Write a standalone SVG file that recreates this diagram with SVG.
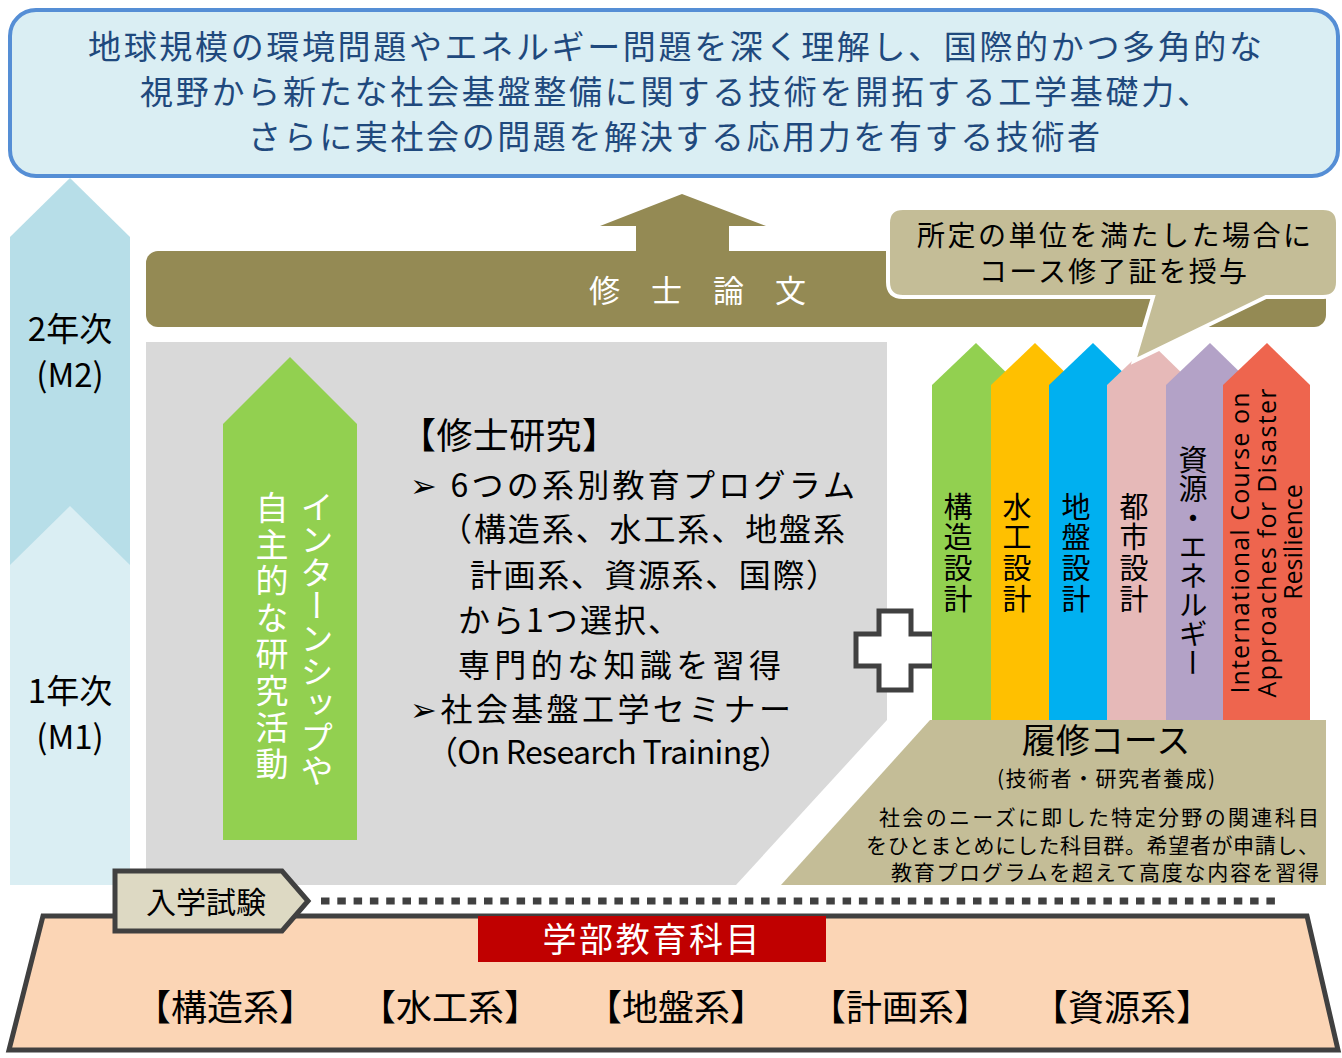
<svg xmlns="http://www.w3.org/2000/svg" width="1342" height="1058" viewBox="0 0 1342 1058">
<style>
text{font-family:"Noto Sans CJK JP","Noto Sans",sans-serif;}
.jp{fill:#000;}
.wh{fill:#fff;}
.vt{writing-mode:vertical-rl;}
.ban{fill:#1F497D;font-size:33px;}
.yr{font-size:33px;fill:#000;text-anchor:middle;}
.mid{font-size:32px;fill:#000;}
.arr{font-size:29px;fill:#000;}
.en{font-family:"Open Sans","Noto Sans",sans-serif;font-size:25px;fill:#000;text-anchor:middle;}
.sm{font-size:21px;fill:#000;text-anchor:end;}
.bot{font-size:36px;fill:#000;text-anchor:middle;}
.dk{stroke:#404040;stroke-width:5;stroke-linejoin:miter;}
</style>
<rect width="1342" height="1058" fill="#fff"/>

<g id="goal">
<rect x="10" y="10" width="1328" height="166" rx="26" fill="#DAEEF3" stroke="#558ED5" stroke-width="4"/>
<text class="ban" x="88" y="59" textLength="1174" lengthAdjust="spacing">地球規模の環境問題やエネルギー問題を深く理解し、国際的かつ多角的な</text>
<text class="ban" x="140" y="104" textLength="1070" lengthAdjust="spacing">視野から新たな社会基盤整備に関する技術を開拓する工学基礎力、</text>
<text class="ban" x="248" y="149" textLength="852" lengthAdjust="spacing">さらに実社会の問題を解決する応用力を有する技術者</text>
</g>

<g id="year2">
<path d="M10,885 V237 L70,178 L130,237 V885 Z" fill="#B7DEE8"/>
<text class="yr" x="70" y="341">2年次</text>
<text class="yr" x="70" y="387">(M2)</text>
</g>
<g id="year1">
<path d="M10,885 V565 L70,506 L130,565 V885 Z" fill="#DAEEF3"/>
<text class="yr" x="70" y="703">1年次</text>
<text class="yr" x="70" y="749">(M1)</text>
</g>

<g id="thesis">
<rect x="146" y="251" width="1180" height="76" rx="12" fill="#948A54"/>
<path d="M636,252 V226 H600 L682,194 L766,226 H729 V252 Z" fill="#948A54"/>
<text class="wh" x="589" y="302" font-size="31" textLength="217" lengthAdjust="spacing">修 士 論 文</text>
</g>

<g id="research">
<path d="M146,342 H887 V720 L736,885 H146 Z" fill="#D9D9D9"/>
<text class="jp" x="400" y="449" font-size="36" textLength="218" lengthAdjust="spacing">【修士研究】</text>
<text class="mid" x="410" y="497" textLength="445" lengthAdjust="spacing">➢ 6つの系別教育プログラム</text>
<text class="mid" x="440" y="541" textLength="405" lengthAdjust="spacing">（構造系、水工系、地盤系</text>
<text class="mid" x="470" y="587" textLength="368" lengthAdjust="spacing">計画系、資源系、国際）</text>
<text class="mid" x="458" y="632" textLength="222" lengthAdjust="spacing">から1つ選択、</text>
<text class="mid" x="458" y="677" textLength="323" lengthAdjust="spacing">専門的な知識を習得</text>
<text class="mid" x="410" y="721" textLength="381" lengthAdjust="spacing">➢社会基盤工学セミナー</text>
<text class="mid" x="426" y="764" textLength="365" lengthAdjust="spacing">（On Research Training）</text>
</g>

<g id="internship">
<path d="M223,840 V424 L290,357 L357,424 V840 Z" fill="#92D050"/>
<text class="wh vt" x="317" y="490" font-size="33">インターンシップや</text>
<text class="wh vt" x="272" y="491" font-size="33" letter-spacing="3.6">自主的な研究活動</text>
</g>

<g id="plus">
<path d="M879,611 H911 V634 H934 V666 H911 V690 H879 V666 H856 V634 H879 Z" fill="#fff" class="dk"/>
</g>

<g id="course-arrows">
<g id="c-kozo"><path d="M932,720 V385 L976,343 L1019,385 V720 Z" fill="#92D050"/>
<text class="arr vt" x="958" y="492" letter-spacing="1.7">構造設計</text></g>
<g id="c-suiko"><path d="M991,720 V385 L1035,343 L1078,385 V720 Z" fill="#FFC000"/>
<text class="arr vt" x="1017" y="492" letter-spacing="1.7">水工設計</text></g>
<g id="c-jiban"><path d="M1049,720 V385 L1093,343 L1136,385 V720 Z" fill="#00B0F0"/>
<text class="arr vt" x="1076" y="492" letter-spacing="1.7">地盤設計</text></g>
<g id="c-toshi"><path d="M1107,720 V385 L1151,343 L1194,385 V720 Z" fill="#E6B9B8"/>
<text class="arr vt" x="1134" y="492" letter-spacing="1.7">都市設計</text></g>
<g id="c-shigen"><path d="M1166,720 V385 L1210,343 L1253,385 V720 Z" fill="#B3A2C7"/>
<text class="arr vt" x="1193" y="445" font-size="27.5">資源・エネルギー</text></g>
<g id="c-intl"><path d="M1223,720 V385 L1267,343 L1310,385 V720 Z" fill="#EE654E"/>
<text class="en" transform="translate(1249,543) rotate(-90)" textLength="301" lengthAdjust="spacing">International Course on</text>
<text class="en" transform="translate(1276,543) rotate(-90)" textLength="309" lengthAdjust="spacing">Approaches for Disaster</text>
<text class="en" transform="translate(1302,542) rotate(-90)">Resilience</text></g>
</g>

<g id="bubble">
<path d="M903,208 H1323 Q1338,208 1338,223 V282 Q1338,297 1323,297 H1266 L1134,361 L1153,297 H903 Q888,297 888,282 V223 Q888,208 903,208 Z" fill="#C4BD97" stroke="#fff" stroke-width="4"/>
<text class="jp" x="917" y="246" font-size="28" textLength="394" lengthAdjust="spacing">所定の単位を満たした場合に</text>
<text class="jp" x="979" y="282" font-size="28" textLength="268" lengthAdjust="spacing">コース修了証を授与</text>
</g>

<g id="course">
<path d="M930,720 H1326 V885 H781 Z" fill="#C4BD97"/>
<text class="jp" x="1106" y="753" font-size="34" text-anchor="middle">履修コース</text>
<text class="jp" x="1106" y="786" font-size="21" text-anchor="middle" textLength="218" lengthAdjust="spacing">(技術者・研究者養成)</text>
<text class="sm" x="1319" y="825" textLength="440" lengthAdjust="spacing">社会のニーズに即した特定分野の関連科目</text>
<text class="sm" x="1319" y="853" textLength="453" lengthAdjust="spacing">をひとまとめにした科目群。希望者が申請し、</text>
<text class="sm" x="1319" y="880" textLength="428" lengthAdjust="spacing">教育プログラムを超えて高度な内容を習得</text>
</g>

<g id="connectors">
<line x1="321" y1="901" x2="1275" y2="901" stroke="#404040" stroke-width="7" stroke-dasharray="8.5 7.8"/>
</g>

<g id="undergrad">
<path d="M43,916 H1307 L1338,1050 H9 Z" fill="#FBD5B5" class="dk"/>
<rect x="478" y="916" width="348" height="46" fill="#C00000"/>
<text class="wh" x="651" y="952" font-size="34" text-anchor="middle" textLength="217" lengthAdjust="spacing">学部教育科目</text>
<text class="bot" x="225" y="1021">【構造系】</text>
<text class="bot" x="450" y="1021">【水工系】</text>
<text class="bot" x="676" y="1021">【地盤系】</text>
<text class="bot" x="900" y="1021">【計画系】</text>
<text class="bot" x="1122" y="1021">【資源系】</text>
</g>

<g id="entrance">
<path d="M115,871 H282 L308,901 L282,931 H115 Z" fill="#DDD9C3" class="dk"/>
<text class="jp" x="206" y="913" font-size="30" text-anchor="middle">入学試験</text>
</g>
</svg>
